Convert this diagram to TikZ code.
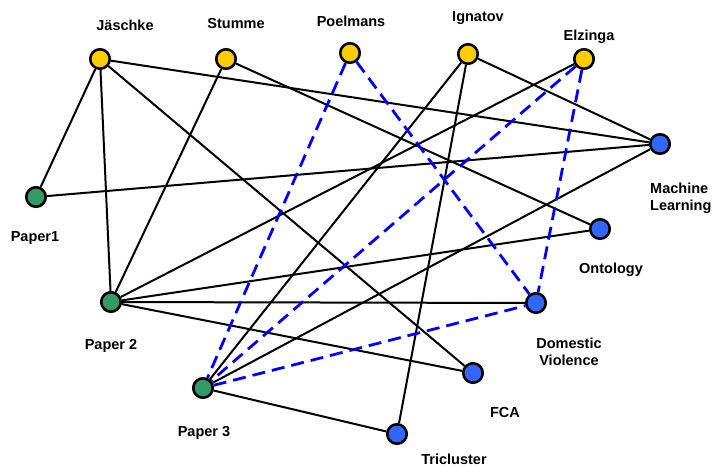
\documentclass[tikz,border=0pt]{standalone}
\usepackage{fontspec}
\setmainfont{Liberation Sans}
\usetikzlibrary{backgrounds}
\definecolor{authc}{HTML}{FFCC00}
\definecolor{paperc}{HTML}{339966}
\definecolor{topicc}{HTML}{3366FF}
\definecolor{dashc}{HTML}{0000FF}
\tikzset{
  vtx/.style={circle, draw=black, line width=2.6pt, minimum size=19.5pt, inner sep=0pt},
  author/.style={vtx, fill=authc},
  paper/.style={vtx, fill=paperc},
  topic/.style={vtx, fill=topicc},
  lbl/.style={font=\fontsize{14.5}{17}\selectfont\bfseries, inner sep=0pt, anchor=north},
  link/.style={draw=black, line width=2pt},
  dlink/.style={draw=dashc, line width=2.8pt, dash pattern=on 13pt off 7pt},
}
\begin{document}
\begin{tikzpicture}[x=1pt,y=-1pt]
\path[use as bounding box] (0,0) rectangle (713,467);
% vertices
\node[author] (J) at (100,59) {};
\node[author] (S) at (226,59) {};
\node[author] (P) at (350,53) {};
\node[author] (I) at (468,54) {};
\node[author] (E) at (584,59) {};
\node[paper] (P1) at (36,197) {};
\node[paper] (P2) at (111,302) {};
\node[paper] (P3) at (203,388) {};
\node[topic] (ML) at (660,144) {};
\node[topic] (On) at (600,229) {};
\node[topic] (DV) at (536,303) {};
\node[topic] (FCA) at (473,373) {};
\node[topic] (Tri) at (397,434) {};
% labels
\node[lbl] (lJ) at (125,19.3) {Jäschke};
\node[lbl] (lS) at (236,18.3) {Stumme};
\node[lbl] (lP) at (351,16) {Poelmans};
\node[lbl] (lI) at (478,11.7) {Ignatov};
\node[lbl] (lE) at (589,29.3) {Elzinga};
\node[lbl] (lP1) at (35,231.7) {Paper1};
\node[lbl] (lP2) at (111,339.3) {Paper 2};
\node[lbl] (lP3) at (204,425.7) {Paper 3};
\node[lbl, anchor=north west, align=left] (lML) at (650,182.7) {Machine\\Learning};
\node[lbl] (lOn) at (611,262.3) {Ontology};
\node[lbl, align=center] (lDV) at (569,337.3) {Domestic\\Violence};
\node[lbl] (lFCA) at (505,406.7) {FCA};
\node[lbl] (lTri) at (454,453.5) {Tricluster};
% edges
\begin{scope}[on background layer]
\draw[link] (J) -- (P1);
\draw[link] (J) -- (P2);
\draw[link] (J) -- (ML);
\draw[link] (J) -- (FCA);
\draw[link] (S) -- (P2);
\draw[link] (S) -- (On);
\draw[link] (I) -- (P3);
\draw[link] (I) -- (Tri);
\draw[link] (I) -- (ML);
\draw[link] (E) -- (P2);
\draw[link] (P1) -- (ML);
\draw[link] (P2) -- (On);
\draw[link] (P2) -- (DV);
\draw[link] (P2) -- (FCA);
\draw[link] (P3) -- (ML);
\draw[link] (P3) -- (Tri);
\draw[dlink] (P) -- (P3);
\draw[dlink] (P) -- (DV);
\draw[dlink] (E) -- (P3);
\draw[dlink] (E) -- (DV);
\draw[dlink] (P3) -- (DV);
\end{scope}
\end{tikzpicture}
\end{document}
